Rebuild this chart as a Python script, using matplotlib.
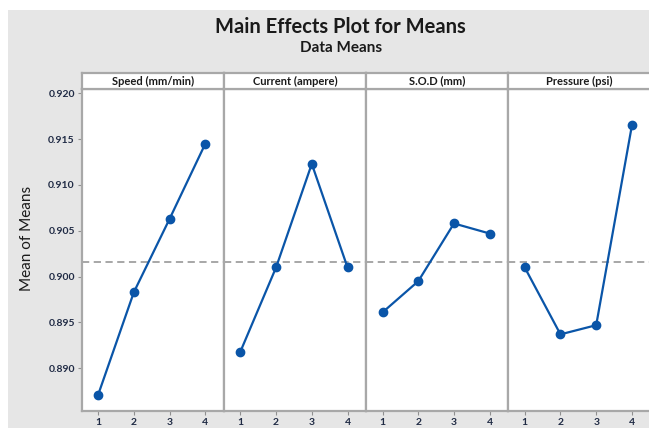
import matplotlib
matplotlib.use('Agg')
import matplotlib.pyplot as plt
from matplotlib.patches import Rectangle

# ------------------------------------------------------------------ data
factors = ['Speed (mm/min)', 'Current (ampere)', 'S.O.D (mm)', 'Pressure (psi)']
levels = [1, 2, 3, 4]
speed_means = [0.8871, 0.8983, 0.9063, 0.9145]
current_means = [0.8918, 0.9010, 0.9123, 0.9010]
sod_means = [0.8961, 0.8995, 0.9058, 0.9047]
pressure_means = [0.9010, 0.8937, 0.8947, 0.9165]
grand_mean = 0.90157
y_ticks = [0.890, 0.895, 0.900, 0.905, 0.910, 0.915, 0.920]

series = [speed_means, current_means, sod_means, pressure_means]

plt.rcParams['font.family'] = ['Lato', 'DejaVu Sans']

W, H = 649, 428
fig = plt.figure(figsize=(W / 100, H / 100), dpi=100)
fig.patch.set_facecolor('white')
# grey chart background (Minitab style), white margin top/left
fig.add_artist(Rectangle((8 / W, 0), 1, (H - 10) / H, transform=fig.transFigure,
                         facecolor='#e6e6e6', edgecolor='none', zorder=0))

fig.text(340 / W, (H - 27) / H, 'Main Effects Plot for Means', ha='center', va='center',
         fontsize=14.5, fontweight='bold', color='#1a1a1a')
fig.text(341 / W, (H - 48.5) / H, 'Data Means', ha='center', va='center',
         fontsize=11, fontweight='bold', color='#1a1a1a')
fig.text(27 / W, (H - 238) / H, 'Mean of Means', rotation=90, ha='center', va='center',
         fontsize=11, color='#1a1a1a')

left_px, right_px = 81.7, 650.5
bot_px, top_px, strip_px = 410.7, 89.0, 73.0
pw = (right_px - left_px) / 4
border = '#a8a8a8'
blue = '#0a55a8'

for i, (name, vals) in enumerate(zip(factors, series)):
    x0 = (left_px + i * pw) / W
    ax = fig.add_axes([x0, (H - bot_px) / H, pw / W, (bot_px - top_px) / H])
    ax.set_facecolor('white')
    ax.plot(levels, vals, '-o', color=blue, lw=1.6, ms=6, zorder=3)
    ax.axhline(grand_mean, color='#a0a0a0', ls=(0, (4, 2.5)), lw=1.3, zorder=2)
    ax.set_xlim(0.54, 4.52)
    ax.set_ylim(0.88537, 0.92047)
    ax.set_xticks(levels)
    ax.set_xticklabels([str(l) for l in levels])
    ax.set_yticks(y_ticks)
    ax.set_yticklabels([f'{t:.3f}' for t in y_ticks])
    ax.tick_params(axis='both', length=3, width=0.8, color='#909090',
                   labelsize=7.5, labelcolor='#1f2a44', pad=2)
    if i > 0:
        ax.tick_params(axis='y', left=False, labelleft=False)
    for lbl in ax.get_xticklabels() + ax.get_yticklabels():
        lbl.set_fontweight('bold')
    for sp in ax.spines.values():
        sp.set_color(border)
        sp.set_linewidth(1.6)

    sax = fig.add_axes([x0, (H - top_px) / H, pw / W, (top_px - strip_px) / H])
    sax.set_facecolor('white')
    sax.set_xticks([])
    sax.set_yticks([])
    for sp in sax.spines.values():
        sp.set_color(border)
        sp.set_linewidth(1.6)
    sax.text(0.5, 0.5, name, ha='center', va='center', transform=sax.transAxes,
             fontsize=8, fontweight='bold', color='#1a1a1a')

fig.savefig('out.png', dpi=100)
